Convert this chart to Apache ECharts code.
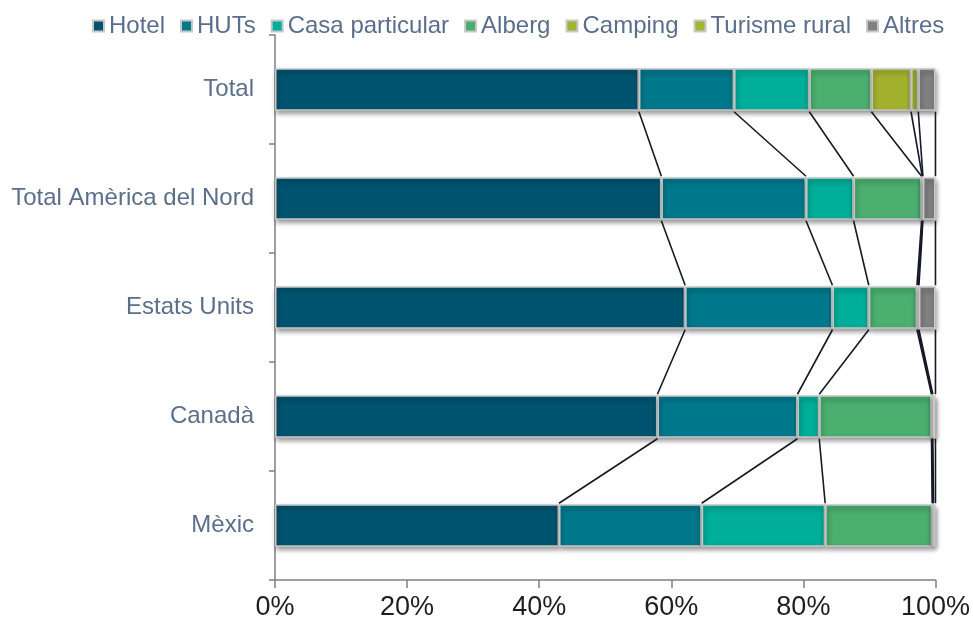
<!DOCTYPE html>
<html>
<head>
<meta charset="utf-8">
<script src="https://cdn.jsdelivr.net/npm/echarts@6/dist/echarts.min.js"></script>
<style>
  html, body { margin: 0; padding: 0; background: #fff; }
  #chart { width: 973px; height: 623px; }
</style>
</head>
<body>
<div id="chart"></div>
<script>
// Categories (top to bottom)
var categories = ['Total', 'Total Amèrica del Nord', 'Estats Units', 'Canadà', 'Mèxic'];

// Shares in % per allotjament type
var hotel = [55.1, 58.5, 62.1, 57.9, 43.0];
var huts = [14.4, 21.9, 22.3, 21.2, 21.6];
var casa = [11.4, 7.2, 5.5, 3.3, 18.7];
var alberg = [9.4, 10.3, 7.3, 17.0, 16.2];
var camping = [6.0, 0.1, 0.2, 0.1, 0.1];
var turisme = [1.1, 0.1, 0.1, 0.1, 0.1];
var altres = [2.6, 1.9, 2.5, 0.4, 0.3];

var xTicks = [0, 20, 40, 60, 80, 100];

var seriesNames = ['Hotel', 'HUTs', 'Casa particular', 'Alberg', 'Camping', 'Turisme rural', 'Altres'];
var seriesData = [hotel, huts, casa, alberg, camping, turisme, altres];
var colors = ['#00546f', '#00788c', '#00ae99', '#4aaf6f', '#a3b22e', '#a5b530', '#808080'];

var BAR_RATIO = 0.39;

document.addEventListener('DOMContentLoaded', function() {
    var chart = echarts.init(document.getElementById('chart'));

    var series = seriesData.map(function(d, k) {
        return {
            name: seriesNames[k],
            type: 'bar',
            stack: 'all',
            barWidth: (BAR_RATIO * 100) + '%',
            data: d,
            itemStyle: {
                color: colors[k],
                borderColor: '#c8c8c8',
                borderWidth: 1.5,
                shadowColor: 'rgba(0,0,0,0.45)',
                shadowBlur: 5,
                shadowOffsetX: 1,
                shadowOffsetY: 3
            },
            emphasis: { disabled: true }
        };
    });

    // connector lines between consecutive bars (cumulative ends)
    var links = [];
    seriesData.forEach(function(d, k) {
        for (var i = 0; i < categories.length - 1; i++) {
            var c1 = 0, c2 = 0;
            for (var j = 0; j <= k; j++) {
                c1 += seriesData[j][i];
                c2 += seriesData[j][i + 1];
            }
            links.push([Math.min(c1, 100), i, Math.min(c2, 100), i + 1]);
        }
    });

    series.push({
        type: 'custom',
        silent: true,
        z: 5,
        encode: { x: [0, 2], y: [1, 3] },
        data: links,
        renderItem: function(params, api) {
            var p1 = api.coord([api.value(0), api.value(1)]);
            var p2 = api.coord([api.value(2), api.value(3)]);
            var half = api.size([0, 1])[1] * BAR_RATIO / 2;
            return {
                type: 'line',
                shape: { x1: p1[0], y1: p1[1] + half + 1, x2: p2[0], y2: p2[1] - half - 1 },
                style: { stroke: '#151a24', lineWidth: 1.6 }
            };
        }
    });

    var option = {
        animation: false,
        color: colors,
        legend: {
            data: seriesNames,
            top: 9,
            left: 87,
            icon: 'rect',
            itemWidth: 11,
            itemHeight: 11,
            itemGap: 15,
            textStyle: { fontFamily: 'Liberation Sans', fontSize: 24, color: '#5b6e8c' }
        },
        grid: { left: 275, right: 35, top: 35, bottom: 43 },
        xAxis: {
            type: 'value',
            min: 0,
            max: 100,
            interval: 20,
            splitLine: { show: false },
            axisLine: { show: true, lineStyle: { color: '#808080', width: 1.5 } },
            axisTick: { show: true, length: 8, lineStyle: { color: '#808080', width: 1.5 } },
            axisLabel: {
                fontFamily: 'Liberation Sans',
                fontSize: 27,
                color: '#1e1e1e',
                margin: 14,
                formatter: function(v) { return xTicks.indexOf(v) >= 0 ? v + '%' : ''; }
            }
        },
        yAxis: {
            type: 'category',
            inverse: true,
            data: categories,
            axisLine: { show: true, lineStyle: { color: '#808080', width: 1.5 } },
            axisTick: { show: true, length: 6, lineStyle: { color: '#808080', width: 1.5 } },
            axisLabel: {
                fontFamily: 'Liberation Sans',
                fontSize: 24,
                color: '#5b6e8c',
                margin: 21
            }
        },
        series: series
    };
    chart.setOption(option);

    window.addEventListener('resize', function() {
        chart.resize();
    });
});
</script>
</body>
</html>
